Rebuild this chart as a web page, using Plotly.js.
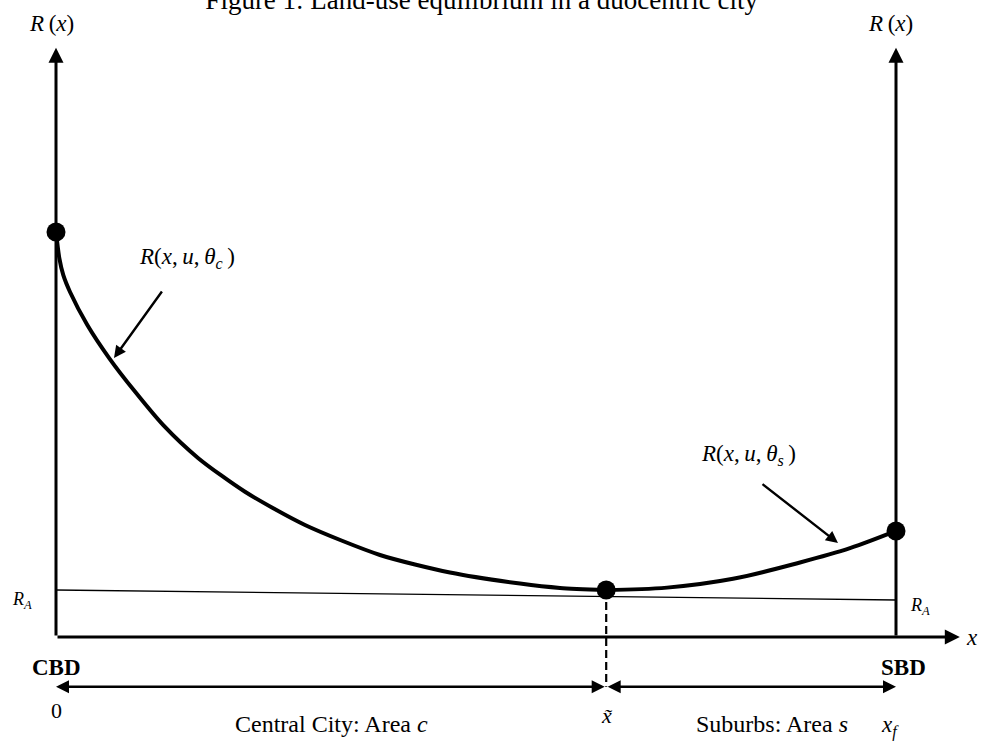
<!DOCTYPE html>
<html>
<head>
<meta charset="utf-8">
<script src="https://cdn.plot.ly/plotly-3.0.1.min.js"></script>
<style>html,body{margin:0;padding:0;background:#fff;}#chart{width:982px;height:745px;}</style>
</head>
<body>
<div id="chart"></div>
<script>
// ---- data (diagram units: x from CBD = 0 to SBD = 10, rent on y) ----
const cityX = [0, 0.04, 0.087, 0.167, 0.373, 0.635, 0.94, 1.277, 1.694, 2.25, 2.964, 3.857, 4.69, 5.524, 6.0, 6.55];
const cityY = [6.75, 6.31, 6.03, 5.75, 5.2, 4.645, 4.09, 3.53, 2.98, 2.42, 1.867, 1.367, 1.075, 0.89, 0.817, 0.783];
const suburbX = [6.55, 7.274, 8.06, 8.857, 9.452, 10];
const suburbY = [0.783, 0.823, 0.97, 1.242, 1.48, 1.767];
const agriX = [0, 10];
const agriY = [0.783, 0.617];
const pointX = [0, 6.55, 10];
const pointY = [6.75, 0.783, 1.767];
const xTilde = 6.55;
const xF = 10;
const axisTop = 9.82;
const xAxisEnd = 10.76;
const braceY = -0.83;

// pixel -> data helpers for label placement
const PX0 = 56, PXS = 84, PY0 = 637, PYS = 60;
const X = p => (p - PX0) / PXS;
const Y = p => (PY0 - p) / PYS;

const serif = 'Liberation Serif, Times New Roman, serif';
const black = '#000';

const traces = [
  {x: agriX, y: agriY, mode: 'lines', line: {color: black, width: 1.4}, hoverinfo: 'skip'},
  {x: cityX, y: cityY, mode: 'lines', line: {color: black, width: 4, shape: 'spline', smoothing: 0.7}, hoverinfo: 'skip'},
  {x: suburbX, y: suburbY, mode: 'lines', line: {color: black, width: 4, shape: 'spline', smoothing: 1}, hoverinfo: 'skip'},
  {x: pointX, y: pointY, mode: 'markers', marker: {color: black, size: 19}, hoverinfo: 'skip'}
];

function arrow(x, y, ax, ay, opts) {
  return Object.assign({
    x: x, y: y, ax: ax, ay: ay, xref: 'x', yref: 'y', axref: 'x', ayref: 'y',
    text: '', showarrow: true, arrowhead: 2, arrowsize: 1, arrowwidth: 2.6,
    arrowcolor: black, standoff: 0, startstandoff: 0
  }, opts || {});
}
function label(px, py, text, size, opts) {
  return Object.assign({
    x: X(px), y: Y(py), xref: 'x', yref: 'y', text: text, showarrow: false,
    xanchor: 'center', yanchor: 'middle',
    font: {family: serif, size: size, color: black}
  }, opts || {});
}

const th = '\u2009';
const annotations = [
  // axes
  arrow(0, axisTop, 0, 0, {arrowwidth: 3}),
  arrow(xF, axisTop, xF, 0, {arrowwidth: 3}),
  arrow(xAxisEnd, 0, 0, 0, {arrowwidth: 3}),
  // area braces
  arrow(0, braceY, xTilde, braceY, {arrowside: 'end+start', arrowwidth: 2.6}),
  arrow(xF, braceY, xTilde, braceY, {arrowside: 'end+start', arrowwidth: 2.6}),
  // pointers to curves
  arrow(X(114), Y(358), X(163), Y(290), {arrowwidth: 2.4}),
  arrow(X(838), Y(543), X(761), Y(483), {arrowwidth: 2.4}),
  // labels
  label(51, 23, '<i>R</i>' + th + '(<i>x</i>)', 23),
  label(890, 23, '<i>R</i>' + th + '(<i>x</i>)', 23),
  label(187, 258, '<i>R</i>(<i>x</i>,' + th + '<i>u</i>,' + th + '<i>θ<sub>c</sub></i>' + th + ')', 23),
  label(748, 455, '<i>R</i>(<i>x</i>,' + th + '<i>u</i>,' + th + '<i>θ<sub>s</sub></i>' + th + ')', 23),
  label(22, 600, '<i>R<sub>A</sub></i>', 18),
  label(920, 606, '<i>R<sub>A</sub></i>', 18),
  label(972, 637, '<i>x</i>', 23),
  label(56, 667, '<b>CBD</b>', 23),
  label(903, 667, '<b>SBD</b>', 23),
  label(56, 710, '0', 22),
  label(331, 724, 'Central City: Area <i>c</i>', 24),
  label(606, 715, '<i>x̃</i>', 22),
  label(772, 724, 'Suburbs: Area <i>s</i>', 24),
  label(890, 726, '<i>x<sub>f</sub></i>', 23)
];

const layout = {
  width: 982, height: 745,
  margin: {l: 0, r: 0, t: 0, b: 0},
  paper_bgcolor: '#fff', plot_bgcolor: '#fff',
  showlegend: false,
  title: {
    text: 'Figure 1: Land-use equilibrium in a duocentric city',
    font: {family: serif, size: 27, color: black},
    x: 0.4905, xanchor: 'center', xref: 'paper',
    y: 1, yanchor: 'middle', yref: 'container'
  },
  xaxis: {range: [X(0), X(982)], visible: false, fixedrange: true},
  yaxis: {range: [Y(745), Y(0)], visible: false, fixedrange: true},
  shapes: [
    {type: 'line', xref: 'x', yref: 'y', x0: xTilde, x1: xTilde, y0: pointY[1], y1: braceY,
     line: {color: black, width: 2.2, dash: '8px,4px'}}
  ],
  annotations: annotations
};

Plotly.newPlot('chart', traces, layout, {displayModeBar: false, staticPlot: true});
</script>
</body>
</html>
